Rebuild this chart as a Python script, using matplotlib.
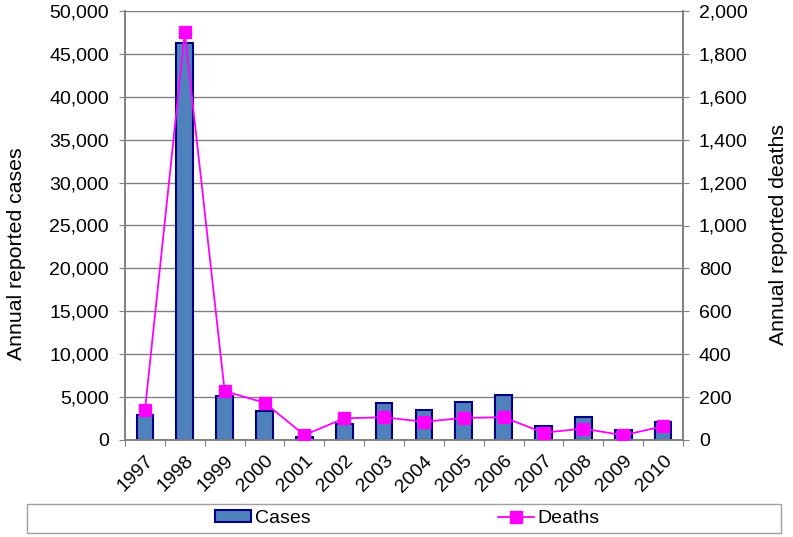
import matplotlib
matplotlib.use('Agg')
import matplotlib.pyplot as plt
import numpy as np
from matplotlib.patches import Rectangle
from matplotlib.ticker import FuncFormatter, MultipleLocator

years = ['1997', '1998', '1999', '2000', '2001', '2002', '2003',
         '2004', '2005', '2006', '2007', '2008', '2009', '2010']
cases = [2950, 46300, 5160, 3420, 390, 1860, 4270,
         3500, 4470, 5240, 1670, 2680, 1170, 2060]
deaths = [138, 1900, 228, 174, 23, 101, 106,
          85, 103, 106, 34, 53, 22, 64]

plt.rcParams['font.family'] = ['Liberation Sans', 'DejaVu Sans']

W, H = 793, 537
fig = plt.figure(figsize=(W / 100, H / 100), dpi=100, facecolor='white')
# plot area in pixels: x 125..683, y 11..440
ax = fig.add_axes([125 / W, 1 - 440 / H, 558 / W, 429 / H])
ax2 = ax.twinx()

x = np.arange(len(years))
ax.bar(x, cases, width=0.42, color='#4F81BD', edgecolor='#000080',
       linewidth=1.5, zorder=2, label='Cases')
ax2.plot(x, deaths, color='#FF00FF', marker='s', markersize=8,
         linewidth=1.3, zorder=3, label='Deaths')

ax.set_xlim(-0.5, len(years) - 0.5)
ax.set_ylim(0, 50000)
ax2.set_ylim(0, 2000)
ax.yaxis.set_major_locator(MultipleLocator(5000))
ax2.yaxis.set_major_locator(MultipleLocator(200))
fmt = FuncFormatter(lambda v, p: f'{int(v):,}')
ax.yaxis.set_major_formatter(fmt)
ax2.yaxis.set_major_formatter(fmt)

ax.grid(axis='y', color='#808080', linewidth=1, zorder=0)
ax.set_axisbelow(True)

for a in (ax, ax2):
    a.spines['top'].set_visible(False)
    for s in ('left', 'right', 'bottom'):
        a.spines[s].set_color('#808080')
        a.spines[s].set_linewidth(1.2)

# category ticks sit between the bars
ax.set_xticks(np.arange(-0.5, len(years) + 0.5, 1.0))
ax.set_xticklabels([])
ax.set_xticks(x, minor=True)
ax.set_xticklabels(years, minor=True, rotation=45, ha='right',
                   rotation_mode='anchor', fontsize=14)
ax.tick_params(axis='x', which='minor', length=0, pad=9)
ax.tick_params(axis='x', which='major', length=4, color='#808080', direction='out')
ax.tick_params(axis='y', labelsize=14, length=4, color='#808080', pad=7.5)
ax2.tick_params(axis='y', labelsize=14, length=4, color='#808080', pad=7.5)

ax.set_ylabel('Annual reported cases', fontsize=15.3, labelpad=17)
ax2.set_ylabel('Annual reported deaths', fontsize=15.3, labelpad=15)
ax.yaxis.label.set_y(0.434)
ax2.yaxis.label.set_y(0.48)

# legend box along the bottom
fig.patches.append(Rectangle((27 / W, 1 - 533 / H), 754 / W, 29 / H,
                             transform=fig.transFigure, facecolor='white',
                             edgecolor='#a0a0a0', linewidth=1))
h1, l1 = ax.get_legend_handles_labels()
h2, l2 = ax2.get_legend_handles_labels()
fig.legend(h1 + h2, l1 + l2, loc='center', bbox_to_anchor=(407.5 / W, 1 - 518.5 / H),
           ncol=2, frameon=False, fontsize=14, columnspacing=9.6,
           handlelength=1.85, handleheight=0.55, handletextpad=0.2)

fig.savefig('out.png', dpi=100)
